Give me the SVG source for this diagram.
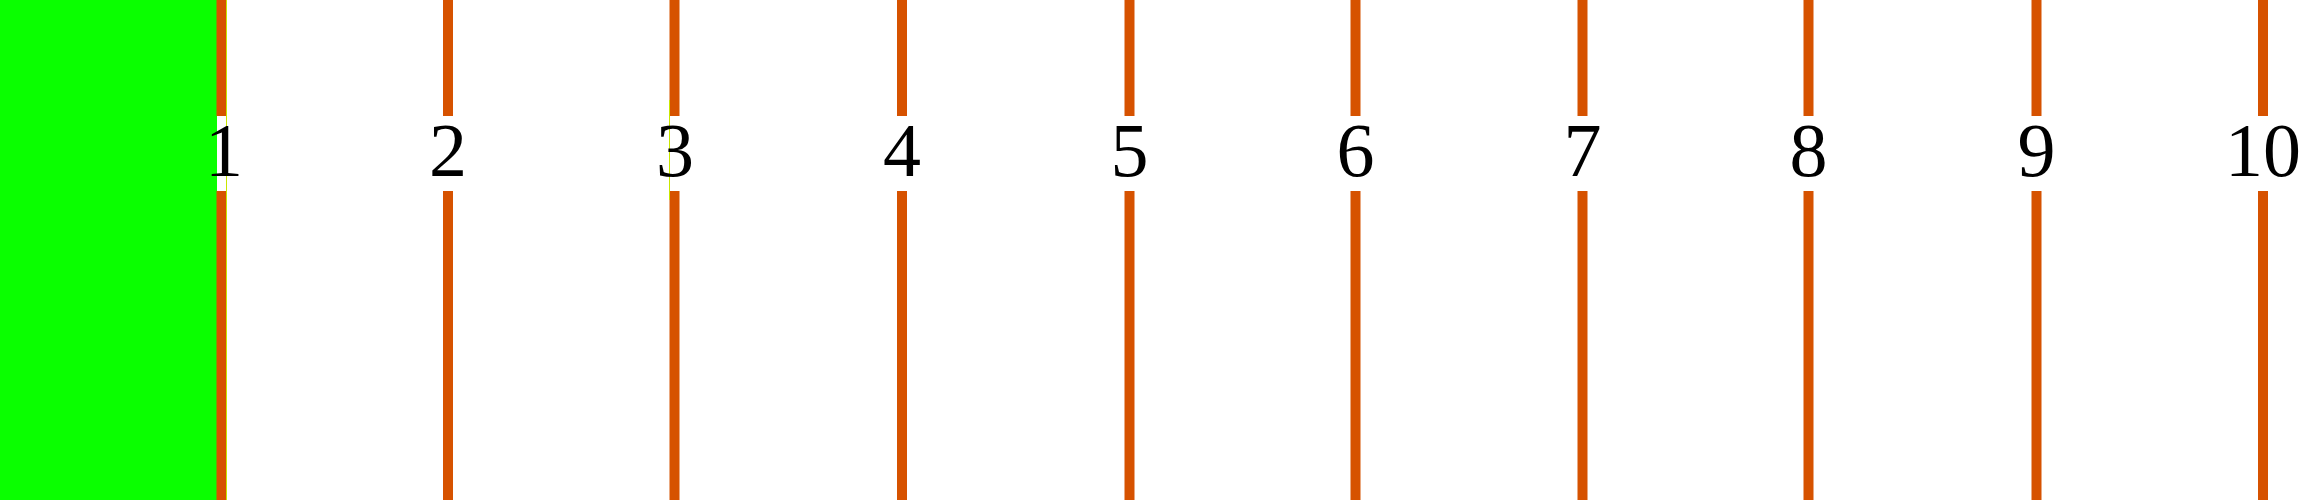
<svg xmlns="http://www.w3.org/2000/svg" width="2323" height="500" viewBox="0 0 2323 500">
<style>
.ln{stroke:#d65200;stroke-width:10}
.lb{font-family:"Liberation Serif","DejaVu Serif",serif;font-size:76px;fill:#000;text-anchor:middle}
.th{stroke:#c8e600;stroke-width:1}
</style>
<rect width="2323" height="500" fill="#fff"/>
<rect id="green-area" x="0" y="0" width="217" height="500" fill="#0aff00"/>
<g id="connectors">
<line class="ln" x1="221.5" y1="0" x2="221.5" y2="116"/><line class="ln" x1="221.5" y1="191" x2="221.5" y2="500"/>
<line class="th" x1="226.5" y1="0" x2="226.5" y2="500"/>
<line class="ln" x1="448" y1="0" x2="448" y2="116"/><line class="ln" x1="448" y1="191" x2="448" y2="500"/>
<line class="ln" x1="674.5" y1="0" x2="674.5" y2="116"/><line class="ln" x1="674.5" y1="191" x2="674.5" y2="500"/>
<line class="th" x1="669.5" y1="100" x2="669.5" y2="200"/>
<line class="ln" x1="902" y1="0" x2="902" y2="116"/><line class="ln" x1="902" y1="191" x2="902" y2="500"/>
<line class="ln" x1="1129.5" y1="0" x2="1129.5" y2="116"/><line class="ln" x1="1129.5" y1="191" x2="1129.5" y2="500"/>
<line class="ln" x1="1355.5" y1="0" x2="1355.5" y2="116"/><line class="ln" x1="1355.5" y1="191" x2="1355.5" y2="500"/>
<line class="ln" x1="1582.5" y1="0" x2="1582.5" y2="116"/><line class="ln" x1="1582.5" y1="191" x2="1582.5" y2="500"/>
<line class="ln" x1="1808.5" y1="0" x2="1808.5" y2="116"/><line class="ln" x1="1808.5" y1="191" x2="1808.5" y2="500"/>
<line class="ln" x1="2036.5" y1="0" x2="2036.5" y2="116"/><line class="ln" x1="2036.5" y1="191" x2="2036.5" y2="500"/>
<line class="ln" x1="2263" y1="0" x2="2263" y2="116"/><line class="ln" x1="2263" y1="191" x2="2263" y2="500"/>
</g>
<g id="label-1"><text class="lb" x="224" y="176">1</text></g>
<g id="label-2"><text class="lb" x="448" y="176">2</text></g>
<g id="label-3"><text class="lb" x="675" y="176">3</text></g>
<g id="label-4"><text class="lb" x="902" y="176">4</text></g>
<g id="label-5"><text class="lb" x="1129.5" y="176">5</text></g>
<g id="label-6"><text class="lb" x="1355.5" y="176">6</text></g>
<g id="label-7"><text class="lb" x="1582.5" y="176">7</text></g>
<g id="label-8"><text class="lb" x="1808.5" y="176">8</text></g>
<g id="label-9"><text class="lb" x="2036.5" y="176">9</text></g>
<g id="label-10"><text class="lb" x="2263" y="176">10</text></g>
</svg>
